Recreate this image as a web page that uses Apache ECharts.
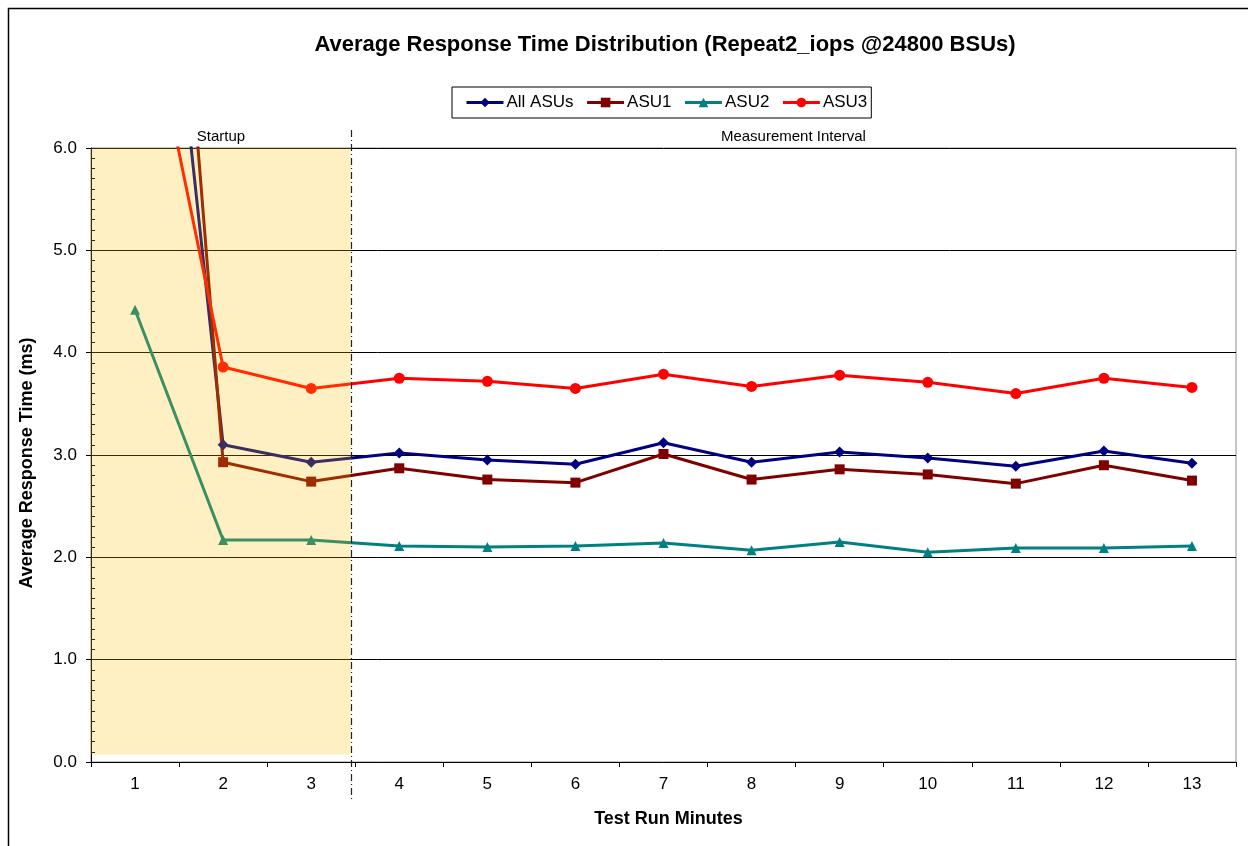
<!DOCTYPE html>
<html>
<head>
<meta charset="utf-8">
<script src="https://cdn.jsdelivr.net/npm/echarts@6/dist/echarts.min.js"></script>
<style>html,body{margin:0;padding:0;background:#fff;}#c{width:1248px;height:846px;}</style>
</head>
<body>
<div id="c"></div>
<script>
const minutes = ['1','2','3','4','5','6','7','8','9','10','11','12','13'];
const allASUs = [11.1, 3.10, 2.93, 3.02, 2.95, 2.91, 3.12, 2.93, 3.03, 2.97, 2.89, 3.04, 2.92];
const asu1    = [13.7, 2.93, 2.74, 2.87, 2.76, 2.73, 3.01, 2.76, 2.86, 2.81, 2.72, 2.90, 2.75];
const asu2    = [4.42, 2.17, 2.17, 2.11, 2.10, 2.11, 2.14, 2.07, 2.15, 2.05, 2.09, 2.09, 2.11];
const asu3    = [8.05, 3.86, 3.65, 3.75, 3.72, 3.65, 3.79, 3.67, 3.78, 3.71, 3.60, 3.75, 3.66];
const yTicks = [0, 1, 2, 3, 4, 5, 6];
const startupStart = 0.5;
const startupEnd = 3.45;
const startupBottom = 0.07;
const startupTop = 6;

const font = 'Arial, "Liberation Sans", sans-serif';
const chart = echarts.init(document.getElementById('c'), null, {renderer: 'canvas'});

function mk(name, data, color, symbol, size) {
  return {
    name: name, type: 'line', data: data, xAxisIndex: 0, yAxisIndex: 0,
    symbol: symbol, symbolSize: size, showSymbol: true,
    lineStyle: {width: 3, color: color}, itemStyle: {color: color},
    emphasis: {disabled: true}, animation: false, clip: true, z: 3
  };
}

const option = {
  animation: false,
  backgroundColor: '#fff',
  title: {
    text: 'Average Response Time Distribution (Repeat2_iops @24800 BSUs)',
    left: 660, top: 29, textAlign: 'center',
    textStyle: {fontFamily: font, fontSize: 22, fontWeight: 'bold', color: '#000'}
  },
  legend: {
    left: 452, top: 87,
    padding: [7, 4, 7, 13],
    borderColor: '#000', borderWidth: 1,
    itemWidth: 37, itemHeight: 12, itemGap: 12,
    lineStyle: {width: 3},
    textStyle: {fontFamily: font, fontSize: 17, color: '#000', padding: [0, 0, 0, -2]},
    data: ['All ASUs', 'ASU1', 'ASU2', 'ASU3']
  },
  grid: {left: 91, top: 148, right: 12, bottom: 84, show: true, borderColor: '#8c8c8c', borderWidth: 1, backgroundColor: 'transparent'},
  xAxis: [{
    type: 'category', data: minutes, boundaryGap: true,
    name: 'Test Run Minutes', nameLocation: 'middle', nameGap: 48,
    nameTextStyle: {fontFamily: font, fontSize: 18, fontWeight: 'bold', color: '#000', padding: [0, 0, 0, 10]},
    axisLine: {lineStyle: {color: '#000', width: 1}},
    axisTick: {show: true, inside: false, length: 5, lineStyle: {color: '#000'}, alignWithLabel: false},
    axisLabel: {fontFamily: font, fontSize: 17, color: '#000', margin: 14},
    splitLine: {show: false}
  }, {
    type: 'value', min: 0.5, max: 13.5, show: false
  }],
  yAxis: [{
    type: 'value', min: 0, max: 6, interval: 1,
    name: 'Average Response Time (ms)', nameLocation: 'middle', nameGap: 55, nameRotate: 90,
    nameTextStyle: {fontFamily: font, fontSize: 18, fontWeight: 'bold', color: '#000', padding: [0, 16, 0, 0]},
    axisLine: {show: true, lineStyle: {color: '#000', width: 1}},
    axisTick: {show: true, inside: false, length: 5, lineStyle: {color: '#000'}},
    axisLabel: {fontFamily: font, fontSize: 17, color: '#000', margin: 14, formatter: v => v.toFixed(1)},
    splitLine: {show: true, lineStyle: {color: '#000', width: 1}}
  }, {
    type: 'value', min: 0, max: 6, interval: 0.1, position: 'left', offset: 0,
    axisLine: {show: false},
    axisTick: {show: true, inside: true, length: 4, lineStyle: {color: '#000'}},
    axisLabel: {show: false},
    splitLine: {show: false}
  }],
  series: [
    mk('All ASUs', allASUs, '#000080', 'diamond', 11),
    mk('ASU1', asu1, '#800000', 'rect', 10),
    mk('ASU2', asu2, '#008080', 'triangle', 10),
    mk('ASU3', asu3, '#FF0000', 'circle', 11),
    {
      name: 'startup', type: 'custom', xAxisIndex: 1, yAxisIndex: 0,
      data: [[startupStart, startupEnd, startupBottom, startupTop]],
      silent: true, z: 10, animation: false,
      renderItem: function (params, api) {
        const p0 = api.coord([api.value(0), api.value(3)]);
        const p1 = api.coord([api.value(1), api.value(2)]);
        return {type: 'rect', shape: {x: p0[0], y: p0[1], width: p1[0] - p0[0], height: p1[1] - p0[1]},
                style: {fill: 'rgba(255,191,0,0.235)'}};
      }
    }
  ]
};
chart.setOption(option);

const xL = chart.convertToPixel({xAxisIndex: 1}, startupStart);
const xS = chart.convertToPixel({xAxisIndex: 1}, startupEnd);
const xR = chart.convertToPixel({xAxisIndex: 1}, 13.5);
chart.setOption({
  graphic: [
    {type: 'rect', shape: {x: 8.5, y: 8.5, width: 1300, height: 1000}, style: {fill: null, stroke: '#000', lineWidth: 1.5}, silent: true, z: 0},
    {type: 'line', shape: {x1: Math.round(xS) + 0.5, y1: 130, x2: Math.round(xS) + 0.5, y2: 802},
     style: {stroke: '#222', lineWidth: 1.2, lineDash: [7, 3, 1, 3]}, silent: true, z: 20},
    {type: 'text', x: (xL + xS) / 2, y: 137, style: {text: 'Startup', fill: '#000', font: '15px ' + font, textAlign: 'center', textVerticalAlign: 'middle'}, z: 20},
    {type: 'text', x: (xS + xR) / 2, y: 137, style: {text: 'Measurement Interval', fill: '#000', font: '15px ' + font, textAlign: 'center', textVerticalAlign: 'middle'}, z: 20}
  ]
});
</script>
</body>
</html>
